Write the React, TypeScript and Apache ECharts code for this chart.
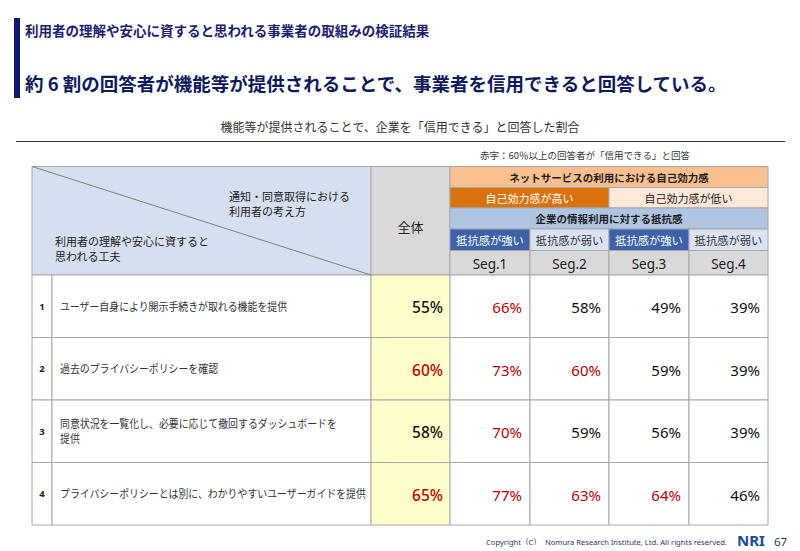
import React, { useEffect, useRef } from "react";
import * as echarts from "echarts";

// ---- data ----
const pageTitle = "利用者の理解や安心に資すると思われる事業者の取組みの検証結果";
const headline = "約 6 割の回答者が機能等が提供されることで、事業者を信用できると回答している。";
const tableTitle = "機能等が提供されることで、企業を「信用できる」と回答した割合";
const note = "赤字：60％以上の回答者が「信用できる」と回答";
const cornerTop = ["通知・同意取得における", "利用者の考え方"];
const cornerBottom = ["利用者の理解や安心に資すると", "思われる工夫"];
const overallLabel = "全体";
const efficacyGroup = "ネットサービスの利用における自己効力感";
const efficacy = ["自己効力感が高い", "自己効力感が低い"];
const resistanceGroup = "企業の情報利用に対する抵抗感";
const resistance = ["抵抗感が強い", "抵抗感が弱い", "抵抗感が強い", "抵抗感が弱い"];
const segments = ["Seg.1", "Seg.2", "Seg.3", "Seg.4"];
const items = [
  ["ユーザー自身により開示手続きが取れる機能を提供"],
  ["過去のプライバシーポリシーを確認"],
  ["同意状況を一覧化し、必要に応じて撤回するダッシュボードを", "提供"],
  ["プライバシーポリシーとは別に、わかりやすいユーザーガイドを提供"],
];
const overall = [55, 60, 58, 65];
const seg1 = [66, 73, 70, 77];
const seg2 = [58, 60, 59, 63];
const seg3 = [49, 59, 56, 64];
const seg4 = [39, 39, 39, 46];
const redThreshold = 60;
const copyright = "Copyright（C）  Nomura Research Institute, Ltd. All rights reserved.";
const pageNo = "67";

// ---- layout / style ----
const JP = "'Noto Sans CJK JP', 'Noto Sans', sans-serif";
const NUM = "'Noto Sans', 'Noto Sans CJK JP', sans-serif";
const BORDER = "#a6a6a6";
const RED = "#c00000";
const X0 = 32, XNUM = 52, XLAB = 371;
const colEdges = [371, 450, 530, 609, 689, 768];
const hY = [166.5, 187.5, 208, 229, 250.5, 275];
const rowY = [275, 337.5, 400, 462.5, 525];

function txt(x: number, y: number, text: string, o: any = {}) {
  const align = o.align || "left";
  const va = o.va || "middle";
  const el: any = {
    type: "text",
    x,
    y,
    silent: true,
    z: 10,
    style: {
      text,
      fill: o.fill || "#222",
      fontSize: o.size || 11,
      fontWeight: o.weight || "normal",
      fontFamily: o.family || JP,
      align,
      verticalAlign: va,
      textAlign: align,
      textVerticalAlign: va,
    },
  };
  if (o.sx) el.scaleX = o.sx;
  return el;
}

function cell(x1: number, y1: number, x2: number, y2: number, fill: string) {
  return {
    type: "rect",
    silent: true,
    z: 1,
    shape: { x: x1, y: y1, width: x2 - x1, height: y2 - y1 },
    style: { fill, stroke: BORDER, lineWidth: 1 },
  };
}

function buildGraphic() {
  const g: any[] = [];
  // header bar & titles
  g.push({ type: "rect", shape: { x: 14, y: 18, width: 6, height: 80 }, style: { fill: "#0d1870" } });
  g.push(txt(25, 30, pageTitle, { size: 13.5, weight: "bold", fill: "#1a2270" }));
  g.push(txt(25, 83, headline, { size: 18.5, weight: "bold", fill: "#0d1a5c" }));
  g.push(txt(400, 127, tableTitle, { size: 12.5, align: "center", fill: "#333", sx: 0.96 }));
  g.push({ type: "line", shape: { x1: 16, y1: 141.5, x2: 785, y2: 141.5 }, style: { stroke: "#333", lineWidth: 1.2 } });
  g.push(txt(585, 155, note, { size: 9.5, align: "center", fill: "#333" }));

  // header cells
  g.push(cell(X0, hY[0], XLAB, hY[5], "#d6dff0"));
  g.push({ type: "line", silent: true, z: 2, shape: { x1: X0, y1: hY[0], x2: XLAB, y2: hY[5] }, style: { stroke: "#7f7f7f", lineWidth: 1 } });
  cornerTop.forEach((t, i) => g.push(txt(229, 196 + i * 15, t, { size: 11 })));
  cornerBottom.forEach((t, i) => g.push(txt(55, 241 + i * 15, t, { size: 11 })));
  g.push(cell(colEdges[0], hY[0], colEdges[1], hY[5], "#d9d9d9"));
  g.push(txt((colEdges[0] + colEdges[1]) / 2, 226, overallLabel, { size: 13, align: "center" }));

  const segL = colEdges[1], segR = colEdges[5];
  g.push(cell(segL, hY[0], segR, hY[1], "#fac090"));
  g.push(txt((segL + segR) / 2, (hY[0] + hY[1]) / 2, efficacyGroup, { size: 10.5, weight: "bold", align: "center" }));
  const effFill = ["#d9730d", "#fde9d9"];
  const effText = ["#ffffff", "#222"];
  efficacy.forEach((t, i) => {
    const a = colEdges[1 + i * 2], b = colEdges[3 + i * 2];
    g.push(cell(a, hY[1], b, hY[2], effFill[i]));
    g.push(txt((a + b) / 2, (hY[1] + hY[2]) / 2, t, { size: 11, align: "center", fill: effText[i] }));
  });
  g.push(cell(segL, hY[2], segR, hY[3], "#b0c5e4"));
  g.push(txt((segL + segR) / 2, (hY[2] + hY[3]) / 2, resistanceGroup, { size: 10.5, weight: "bold", align: "center" }));
  resistance.forEach((t, i) => {
    const a = colEdges[1 + i], b = colEdges[2 + i];
    const strong = i % 2 === 0;
    g.push(cell(a, hY[3], b, hY[4], strong ? "#3d62aa" : "#dae3f3"));
    g.push(txt((a + b) / 2, (hY[3] + hY[4]) / 2, t, { size: 11.3, align: "center", fill: strong ? "#fff" : "#333" }));
  });
  segments.forEach((t, i) => {
    const a = colEdges[1 + i], b = colEdges[2 + i];
    g.push(cell(a, hY[4], b, hY[5], "#d9d9d9"));
    g.push(txt((a + b) / 2, (hY[4] + hY[5]) / 2 + 1, t, { size: 13.5, align: "center", family: NUM, fill: "#222" }));
  });

  // body
  const segVals = [seg1, seg2, seg3, seg4];
  items.forEach((lines, r) => {
    const y1 = rowY[r], y2 = rowY[r + 1], cy = (y1 + y2) / 2;
    g.push(cell(X0, y1, XNUM, y2, "#ffffff"));
    g.push(txt((X0 + XNUM) / 2, cy, String(r + 1), { size: 9.5, align: "center", family: NUM, weight: "bold" }));
    g.push(cell(XNUM, y1, XLAB, y2, "#ffffff"));
    const off = (lines.length - 1) * 7.5;
    lines.forEach((t, k) => g.push(txt(60, cy - off + k * 15, t, { size: 11, fill: "#333", sx: 0.9 })));
    const v0 = overall[r];
    g.push(cell(colEdges[0], y1, colEdges[1], y2, "#ffffcc"));
    g.push(txt(colEdges[1] - 7, cy + 1, v0 + "%", { size: 15.5, align: "right", family: NUM, weight: 500, fill: v0 >= redThreshold ? RED : "#111" }));
    segVals.forEach((arr, c) => {
      const a = colEdges[1 + c], b = colEdges[2 + c];
      const v = arr[r];
      g.push(cell(a, y1, b, y2, "#ffffff"));
      g.push(txt(b - 8, cy + 1, v + "%", { size: 15, align: "right", family: NUM, fill: v >= redThreshold ? RED : "#111" }));
    });
  });

  // footer
  g.push(txt(727, 542, copyright, { size: 7.6, align: "right", family: NUM, fill: "#1f3864" }));
  g.push(txt(737, 540, "NRI", { size: 15, weight: "bold", family: NUM, fill: "#1a4aa0" }));
  g.push(txt(774, 541, pageNo, { size: 11.5, family: NUM, fill: "#1f3864" }));
  return g;
}

export default function App() {
  const ref = useRef<HTMLDivElement>(null);
  useEffect(() => {
    if (!ref.current) return;
    const chart = echarts.init(ref.current, undefined, { renderer: "svg" });
    chart.setOption({
      animation: false,
      backgroundColor: "#ffffff",
      graphic: { elements: buildGraphic() },
    });
    return () => chart.dispose();
  }, []);
  return (
    <div
      ref={ref}
      style={{ position: "fixed", left: 0, top: 0, width: 800, height: 551, background: "#fff" }}
    />
  );
}
